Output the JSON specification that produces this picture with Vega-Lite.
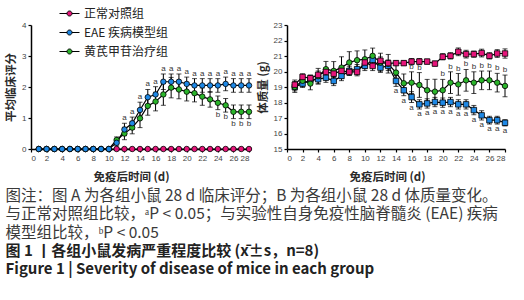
{
"$schema": "https://vega.github.io/schema/vega-lite/v6.json",
"background": "white",
"padding": {"left": 5, "top": 3, "right": 5, "bottom": 5},
"config": {
 "view": {"stroke": null},
 "font": "Liberation Sans",
 "concat": {"spacing": 3},
 "axis": {"domainColor": "black", "domainWidth": 1.5, "tickColor": "black", "tickWidth": 1.2, "tickSize": 3, "labelFontSize": 8, "labelColor": "#444", "labelPadding": 2, "grid": false, "titleFont": "Noto Sans CJK SC", "titleFontSize": 11.5, "titleFontWeight": "bold", "titleColor": "#2a2a2a"},
 "axisX": {"titlePadding": 9, "titleX": 100},
 "axisY": {"titlePadding": 5}
},
"datasets": {
 "score": [
  {"g":"N","d":1,"m":0,"lo":0,"hi":0},{"g":"N","d":2,"m":0,"lo":0,"hi":0},{"g":"N","d":3,"m":0,"lo":0,"hi":0},{"g":"N","d":4,"m":0,"lo":0,"hi":0},{"g":"N","d":5,"m":0,"lo":0,"hi":0},{"g":"N","d":6,"m":0,"lo":0,"hi":0},{"g":"N","d":7,"m":0,"lo":0,"hi":0},{"g":"N","d":8,"m":0,"lo":0,"hi":0},{"g":"N","d":9,"m":0,"lo":0,"hi":0},{"g":"N","d":10,"m":0,"lo":0,"hi":0},{"g":"N","d":11,"m":0,"lo":0,"hi":0},{"g":"N","d":12,"m":0,"lo":0,"hi":0},{"g":"N","d":13,"m":0,"lo":0,"hi":0},{"g":"N","d":14,"m":0,"lo":0,"hi":0},{"g":"N","d":15,"m":0,"lo":0,"hi":0},{"g":"N","d":16,"m":0,"lo":0,"hi":0},{"g":"N","d":17,"m":0,"lo":0,"hi":0},{"g":"N","d":18,"m":0,"lo":0,"hi":0},{"g":"N","d":19,"m":0,"lo":0,"hi":0},{"g":"N","d":20,"m":0,"lo":0,"hi":0},{"g":"N","d":21,"m":0,"lo":0,"hi":0},{"g":"N","d":22,"m":0,"lo":0,"hi":0},{"g":"N","d":23,"m":0,"lo":0,"hi":0},{"g":"N","d":24,"m":0,"lo":0,"hi":0},{"g":"N","d":25,"m":0,"lo":0,"hi":0},{"g":"N","d":26,"m":0,"lo":0,"hi":0},{"g":"N","d":27,"m":0,"lo":0,"hi":0},{"g":"N","d":28,"m":0,"lo":0,"hi":0},
  {"g":"H","d":1,"m":0,"lo":0,"hi":0},{"g":"H","d":2,"m":0,"lo":0,"hi":0},{"g":"H","d":3,"m":0,"lo":0,"hi":0},{"g":"H","d":4,"m":0,"lo":0,"hi":0},{"g":"H","d":5,"m":0,"lo":0,"hi":0},{"g":"H","d":6,"m":0,"lo":0,"hi":0},{"g":"H","d":7,"m":0,"lo":0,"hi":0},{"g":"H","d":8,"m":0,"lo":0,"hi":0},{"g":"H","d":9,"m":0,"lo":0,"hi":0},{"g":"H","d":10,"m":0,"lo":0,"hi":0},
  {"g":"H","d":11,"m":0.29,"lo":0.19,"hi":0.39},{"g":"H","d":12,"m":0.5,"lo":0.3,"hi":0.7},{"g":"H","d":13,"m":0.69,"lo":0.49,"hi":0.89},{"g":"H","d":14,"m":0.99,"lo":0.69,"hi":1.29},{"g":"H","d":15,"m":1.39,"lo":1.09,"hi":1.69},{"g":"H","d":16,"m":1.53,"lo":1.23,"hi":1.83},{"g":"H","d":17,"m":1.76,"lo":1.41,"hi":2.11},{"g":"H","d":18,"m":1.98,"lo":1.65,"hi":2.31},{"g":"H","d":19,"m":1.92,"lo":1.62,"hi":2.22},{"g":"H","d":20,"m":1.85,"lo":1.55,"hi":2.15},{"g":"H","d":21,"m":1.8,"lo":1.52,"hi":2.08},{"g":"H","d":22,"m":1.69,"lo":1.41,"hi":1.97},{"g":"H","d":23,"m":1.6,"lo":1.35,"hi":1.85},{"g":"H","d":24,"m":1.49,"lo":1.27,"hi":1.71,"s":"b"},{"g":"H","d":25,"m":1.41,"lo":1.19,"hi":1.63,"s":"b"},{"g":"H","d":26,"m":1.2,"lo":0.98,"hi":1.42,"s":"b"},{"g":"H","d":27,"m":1.2,"lo":0.98,"hi":1.42,"s":"b"},{"g":"H","d":28,"m":1.2,"lo":0.98,"hi":1.42,"s":"b"},
  {"g":"E","d":1,"m":0,"lo":0,"hi":0},{"g":"E","d":2,"m":0,"lo":0,"hi":0},{"g":"E","d":3,"m":0,"lo":0,"hi":0},{"g":"E","d":4,"m":0,"lo":0,"hi":0},{"g":"E","d":5,"m":0,"lo":0,"hi":0},{"g":"E","d":6,"m":0,"lo":0,"hi":0},{"g":"E","d":7,"m":0,"lo":0,"hi":0},{"g":"E","d":8,"m":0,"lo":0,"hi":0},{"g":"E","d":9,"m":0,"lo":0,"hi":0},{"g":"E","d":10,"m":0,"lo":0,"hi":0},
  {"g":"E","d":11,"m":0.2,"lo":0.1,"hi":0.3},{"g":"E","d":12,"m":0.63,"lo":0.43,"hi":0.83,"s":"a"},{"g":"E","d":13,"m":0.83,"lo":0.63,"hi":1.03,"s":"a"},{"g":"E","d":14,"m":1.26,"lo":1.01,"hi":1.51,"s":"a"},{"g":"E","d":15,"m":1.67,"lo":1.42,"hi":1.92,"s":"a"},{"g":"E","d":16,"m":1.76,"lo":1.51,"hi":2.01,"s":"a"},{"g":"E","d":17,"m":2.17,"lo":1.92,"hi":2.42,"s":"a"},{"g":"E","d":18,"m":2.17,"lo":1.92,"hi":2.42,"s":"a"},{"g":"E","d":19,"m":2.17,"lo":1.92,"hi":2.42,"s":"a"},{"g":"E","d":20,"m":2.1,"lo":1.88,"hi":2.32,"s":"a"},{"g":"E","d":21,"m":2.05,"lo":1.83,"hi":2.27,"s":"a"},{"g":"E","d":22,"m":2.05,"lo":1.83,"hi":2.27,"s":"a"},{"g":"E","d":23,"m":2.05,"lo":1.83,"hi":2.27,"s":"a"},{"g":"E","d":24,"m":2.05,"lo":1.83,"hi":2.27,"s":"a"},{"g":"E","d":25,"m":2.1,"lo":1.88,"hi":2.32,"s":"a"},{"g":"E","d":26,"m":2.05,"lo":1.83,"hi":2.27,"s":"a"},{"g":"E","d":27,"m":2.05,"lo":1.83,"hi":2.27,"s":"a"},{"g":"E","d":28,"m":2.05,"lo":1.83,"hi":2.27,"s":"a"}
 ],
 "weight": [
  {"g":"E","d":1,"m":19.0,"lo":18.75,"hi":19.25},{"g":"E","d":2,"m":19.22,"lo":18.97,"hi":19.47},{"g":"E","d":3,"m":19.45,"lo":19.15,"hi":19.75},{"g":"E","d":4,"m":19.5,"lo":19.2,"hi":19.8},{"g":"E","d":5,"m":19.6,"lo":19.3,"hi":19.9},{"g":"E","d":6,"m":19.39,"lo":19.09,"hi":19.69},{"g":"E","d":7,"m":19.71,"lo":19.41,"hi":20.01},{"g":"E","d":8,"m":20.04,"lo":19.74,"hi":20.34},{"g":"E","d":9,"m":20.15,"lo":19.85,"hi":20.45},{"g":"E","d":10,"m":20.36,"lo":20.06,"hi":20.66},{"g":"E","d":11,"m":20.75,"lo":20.45,"hi":21.05},{"g":"E","d":12,"m":20.25,"lo":19.95,"hi":20.55},{"g":"E","d":13,"m":20.36,"lo":20.06,"hi":20.66},{"g":"E","d":14,"m":19.39,"lo":19.04,"hi":19.74,"s":"a"},{"g":"E","d":15,"m":18.79,"lo":18.44,"hi":19.14,"s":"a"},{"g":"E","d":16,"m":18.35,"lo":18.0,"hi":18.7,"s":"a"},{"g":"E","d":17,"m":17.88,"lo":17.58,"hi":18.18,"s":"a"},{"g":"E","d":18,"m":17.94,"lo":17.64,"hi":18.24,"s":"a"},{"g":"E","d":19,"m":18.03,"lo":17.73,"hi":18.33,"s":"a"},{"g":"E","d":20,"m":17.99,"lo":17.69,"hi":18.29,"s":"a"},{"g":"E","d":21,"m":18.03,"lo":17.73,"hi":18.33,"s":"a"},{"g":"E","d":22,"m":17.88,"lo":17.58,"hi":18.18,"s":"a"},{"g":"E","d":23,"m":17.88,"lo":17.58,"hi":18.18,"s":"a"},{"g":"E","d":24,"m":17.51,"lo":17.21,"hi":17.81,"s":"a"},{"g":"E","d":25,"m":17.17,"lo":16.87,"hi":17.47,"s":"a"},{"g":"E","d":26,"m":16.86,"lo":16.61,"hi":17.11,"s":"a"},{"g":"E","d":27,"m":16.86,"lo":16.61,"hi":17.11,"s":"a"},{"g":"E","d":28,"m":16.69,"lo":16.49,"hi":16.89,"s":"a"},
  {"g":"H","d":1,"m":19.0,"lo":18.65,"hi":19.35},{"g":"H","d":2,"m":19.4,"lo":19.05,"hi":19.75},{"g":"H","d":3,"m":19.22,"lo":18.82,"hi":19.62},{"g":"H","d":4,"m":19.7,"lo":19.2,"hi":20.2},{"g":"H","d":5,"m":20.15,"lo":19.65,"hi":20.65},{"g":"H","d":6,"m":20.04,"lo":19.44,"hi":20.64},{"g":"H","d":7,"m":20.25,"lo":19.55,"hi":20.95},{"g":"H","d":8,"m":20.58,"lo":19.88,"hi":21.28},{"g":"H","d":9,"m":20.73,"lo":20.13,"hi":21.33},{"g":"H","d":10,"m":20.79,"lo":20.19,"hi":21.39},{"g":"H","d":11,"m":21.01,"lo":20.51,"hi":21.51},{"g":"H","d":12,"m":20.58,"lo":19.98,"hi":21.18},{"g":"H","d":13,"m":20.5,"lo":19.9,"hi":21.1},{"g":"H","d":14,"m":19.93,"lo":19.33,"hi":20.53},{"g":"H","d":15,"m":19.24,"lo":18.64,"hi":19.84},{"g":"H","d":16,"m":19.28,"lo":18.58,"hi":19.98,"s":"b"},{"g":"H","d":17,"m":19.13,"lo":18.33,"hi":19.93,"s":"b"},{"g":"H","d":18,"m":18.79,"lo":18.09,"hi":19.49},{"g":"H","d":19,"m":18.7,"lo":17.9,"hi":19.5},{"g":"H","d":20,"m":18.79,"lo":18.09,"hi":19.49,"s":"b"},{"g":"H","d":21,"m":19.28,"lo":18.58,"hi":19.98,"s":"b"},{"g":"H","d":22,"m":19.17,"lo":18.47,"hi":19.87,"s":"b"},{"g":"H","d":23,"m":19.43,"lo":18.73,"hi":20.13,"s":"b"},{"g":"H","d":24,"m":19.28,"lo":18.58,"hi":19.98,"s":"b"},{"g":"H","d":25,"m":19.43,"lo":18.83,"hi":20.03,"s":"b"},{"g":"H","d":26,"m":19.43,"lo":18.83,"hi":20.03,"s":"b"},{"g":"H","d":27,"m":19.28,"lo":18.68,"hi":19.88,"s":"b"},{"g":"H","d":28,"m":19.07,"lo":18.37,"hi":19.77,"s":"b"},
  {"g":"N","d":1,"m":19.15,"lo":18.85,"hi":19.45},{"g":"N","d":2,"m":19.65,"lo":19.45,"hi":19.85},{"g":"N","d":3,"m":19.57,"lo":19.37,"hi":19.77},{"g":"N","d":4,"m":19.78,"lo":19.53,"hi":20.03},{"g":"N","d":5,"m":19.97,"lo":19.72,"hi":20.22},{"g":"N","d":6,"m":19.86,"lo":19.61,"hi":20.11},{"g":"N","d":7,"m":20.04,"lo":19.84,"hi":20.24},{"g":"N","d":8,"m":19.97,"lo":19.77,"hi":20.17},{"g":"N","d":9,"m":19.97,"lo":19.72,"hi":20.22},{"g":"N","d":10,"m":20.58,"lo":20.33,"hi":20.83},{"g":"N","d":11,"m":20.36,"lo":20.06,"hi":20.66},{"g":"N","d":12,"m":20.69,"lo":20.44,"hi":20.94},{"g":"N","d":13,"m":20.54,"lo":20.34,"hi":20.74},{"g":"N","d":14,"m":20.54,"lo":20.39,"hi":20.69},{"g":"N","d":15,"m":20.54,"lo":20.39,"hi":20.69},{"g":"N","d":16,"m":20.64,"lo":20.44,"hi":20.84},{"g":"N","d":17,"m":20.64,"lo":20.44,"hi":20.84},{"g":"N","d":18,"m":20.64,"lo":20.49,"hi":20.79},{"g":"N","d":19,"m":20.51,"lo":20.36,"hi":20.66},{"g":"N","d":20,"m":20.95,"lo":20.75,"hi":21.15},{"g":"N","d":21,"m":21.01,"lo":20.81,"hi":21.21},{"g":"N","d":22,"m":21.27,"lo":21.02,"hi":21.52},{"g":"N","d":23,"m":21.12,"lo":20.87,"hi":21.37},{"g":"N","d":24,"m":21.12,"lo":20.92,"hi":21.32},{"g":"N","d":25,"m":21.19,"lo":20.94,"hi":21.44},{"g":"N","d":26,"m":21.01,"lo":20.81,"hi":21.21},{"g":"N","d":27,"m":21.16,"lo":20.91,"hi":21.41},{"g":"N","d":28,"m":21.16,"lo":20.86,"hi":21.46}
 ]
},
"hconcat": [
 {
  "width": 218, "height": 124,
  "data": {"name": "score"},
  "encoding": {
   "x": {"field": "d", "type": "quantitative", "title": "免疫后时间 (d)", "scale": {"domain": [0, 28], "nice": false}, "axis": {"values": [0,2,4,6,8,10,12,14,16,18,20,22,24,26,28]}}
  },
  "layer": [
   {"mark": {"type": "line", "color": "black", "strokeWidth": 1.2}, "encoding": {"y": {"field": "m", "type": "quantitative", "title": "平均临床评分", "scale": {"domain": [0, 4], "nice": false}, "axis": {"values": [0,1,2,3,4]}}, "detail": {"field": "g"}}},
   {"mark": {"type": "errorbar", "color": "black", "ticks": {"size": 5}, "thickness": 1}, "encoding": {"y": {"field": "lo", "type": "quantitative", "title": "平均临床评分", "scale": {"domain": [0, 4], "nice": false}, "axis": {"values": [0,1,2,3,4]}}, "y2": {"field": "hi"}}},
   {"mark": {"type": "point", "filled": true, "shape": "circle", "size": 30, "stroke": "black", "strokeWidth": 0.8, "opacity": 1}, "encoding": {"y": {"field": "m", "type": "quantitative", "title": "平均临床评分", "scale": {"domain": [0, 4], "nice": false}, "axis": {"values": [0,1,2,3,4]}}, "color": {"field": "g", "type": "nominal", "scale": {"domain": ["N", "E", "H"], "range": ["#E6157A", "#1E88E5", "#2BB52B"]}, "legend": {"title": null, "orient": "none", "legendX": 28, "legendY": -22, "labelExpr": "{'N':'正常对照组','E':'EAE 疾病模型组','H':'黄芪甲苷治疗组'}[datum.label]", "labelFont": "Noto Sans CJK SC", "labelFontSize": 12, "labelColor": "#222", "symbolType": "M-1,0L-0.25,0M0.25,0L1,0M0.25,0A0.25,0.25,0,1,1,-0.25,0A0.25,0.25,0,1,1,0.25,0Z", "symbolSize": 400, "symbolStrokeColor": "black", "symbolStrokeWidth": 1, "rowPadding": 2, "labelOffset": 4}}}},
   {"transform": [{"filter": "datum.s == 'a'"}], "mark": {"type": "text", "fontSize": 8, "color": "#333", "baseline": "bottom", "dy": -1}, "encoding": {"y": {"field": "hi", "type": "quantitative", "title": "平均临床评分", "scale": {"domain": [0, 4], "nice": false}, "axis": {"values": [0,1,2,3,4]}}, "text": {"field": "s"}}},
   {"transform": [{"filter": "datum.s == 'b'"}], "mark": {"type": "text", "fontSize": 8, "color": "#333", "baseline": "top", "dy": 1}, "encoding": {"y": {"field": "lo", "type": "quantitative", "title": "平均临床评分", "scale": {"domain": [0, 4], "nice": false}, "axis": {"values": [0,1,2,3,4]}}, "text": {"field": "s"}}}
  ]
 },
 {
  "width": 218, "height": 124,
  "data": {"name": "weight"},
  "encoding": {
   "x": {"field": "d", "type": "quantitative", "title": "免疫后时间 (d)", "scale": {"domain": [0, 28], "nice": false}, "axis": {"values": [0,2,4,6,8,10,12,14,16,18,20,22,24,26,28]}}
  },
  "layer": [
   {"mark": {"type": "line", "color": "black", "strokeWidth": 1.2}, "encoding": {"y": {"field": "m", "type": "quantitative", "title": "体质量 (g)", "scale": {"domain": [15, 23], "nice": false}, "axis": {"values": [15,16,17,18,19,20,21,22,23]}}, "detail": {"field": "g"}}},
   {"mark": {"type": "errorbar", "color": "black", "ticks": {"size": 5}, "thickness": 1}, "encoding": {"y": {"field": "lo", "type": "quantitative", "title": "体质量 (g)", "scale": {"domain": [15, 23], "nice": false}, "axis": {"values": [15,16,17,18,19,20,21,22,23]}}, "y2": {"field": "hi"}}},
   {"mark": {"type": "point", "filled": true, "size": 30, "stroke": "black", "strokeWidth": 0.8, "opacity": 1}, "encoding": {"y": {"field": "m", "type": "quantitative", "title": "体质量 (g)", "scale": {"domain": [15, 23], "nice": false}, "axis": {"values": [15,16,17,18,19,20,21,22,23]}}, "color": {"field": "g", "type": "nominal", "scale": {"domain": ["N", "E", "H"], "range": ["#E6157A", "#1E88E5", "#2BB52B"]}, "legend": null}, "shape": {"field": "g", "type": "nominal", "scale": {"domain": ["N", "E", "H"], "range": ["square", "square", "circle"]}, "legend": null}}},
   {"transform": [{"filter": "datum.s == 'b'"}], "mark": {"type": "text", "fontSize": 8, "color": "#333", "baseline": "bottom", "dy": -1}, "encoding": {"y": {"field": "hi", "type": "quantitative", "title": "体质量 (g)", "scale": {"domain": [15, 23], "nice": false}, "axis": {"values": [15,16,17,18,19,20,21,22,23]}}, "text": {"field": "s"}}},
   {"transform": [{"filter": "datum.s == 'a'"}], "mark": {"type": "text", "fontSize": 8, "color": "#333", "baseline": "top", "dy": 1}, "encoding": {"y": {"field": "lo", "type": "quantitative", "title": "体质量 (g)", "scale": {"domain": [15, 23], "nice": false}, "axis": {"values": [15,16,17,18,19,20,21,22,23]}}, "text": {"field": "s"}}}
  ]
 }
],
"resolve": {"scale": {"color": "independent", "shape": "independent"}},
"title": {
 "text": ["图注：图 A 为各组小鼠 28 d 临床评分；B 为各组小鼠 28 d 体质量变化。", "与正常对照组比较，ᵃP < 0.05；与实验性自身免疫性脑脊髓炎 (EAE) 疾病", "模型组比较，ᵇP < 0.05"],
 "subtitle": ["图 1 丨各组小鼠发病严重程度比较 (x̄±s，n=8)", "Figure 1  |  Severity of disease of mice in each group"],
 "orient": "bottom", "anchor": "start", "offset": 6,
 "font": "Noto Sans CJK SC", "fontSize": 15.5, "fontWeight": "normal", "color": "#3a3a3a", "lineHeight": 18.5,
 "subtitleFont": "Noto Sans CJK SC", "subtitleFontSize": 15, "subtitleFontWeight": "bold", "subtitleColor": "#222", "subtitleLineHeight": 18, "subtitlePadding": 3
}
}
